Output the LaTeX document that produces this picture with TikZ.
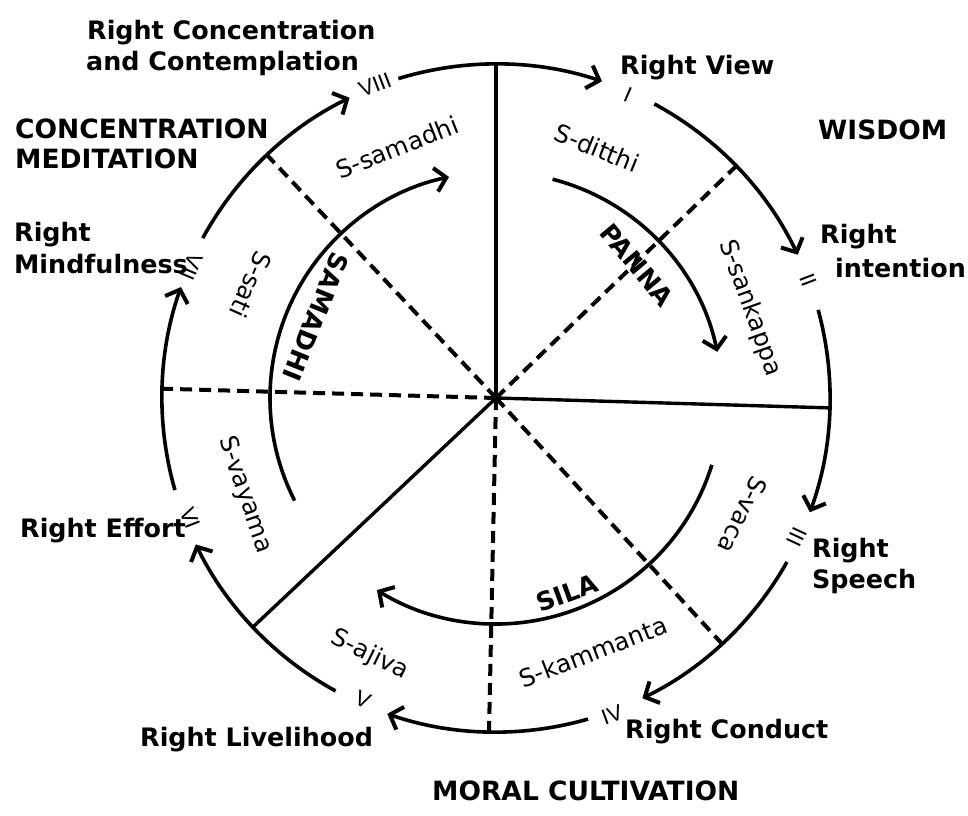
\documentclass[tikz,border=0pt]{standalone}
\usepackage{fontspec}
\setmainfont{DejaVu Sans}
\newfontfamily\numfont{Liberation Sans}
\usetikzlibrary{arrows.meta}
\tikzset{
  ring/.style={line width=3.6pt},
  flow/.style={line width=3.6pt,-{Straight Barb[length=11pt,width=24pt,line width=4pt]}},
  spoke/.style={line width=3.4pt},
  dspoke/.style={line width=4pt,dash pattern=on 12pt off 7pt},
  big/.style={font=\bfseries\fontsize{25.4}{31}\selectfont,inner sep=0pt,anchor=base west},
  capt/.style={font=\bfseries\fontsize{26.5}{32}\selectfont,inner sep=0pt,anchor=base west},
  sub/.style={font=\fontsize{24.5}{28}\selectfont,inner sep=0pt},
  num/.style={font=\numfont\fontsize{22}{24}\selectfont,inner sep=0pt},
  path3/.style={font=\bfseries\fontsize{25.5}{30}\selectfont,inner sep=0pt}
}
\begin{document}
\begin{tikzpicture}[x=1pt,y=1pt]
\useasboundingbox (-496,-417) rectangle (472,398);
\coordinate (O) at (0,0);
% spokes
\coordinate (p90) at (90:334);
\coordinate (p358) at (-1.7:334);
\coordinate (p223) at (223.3:334);
\coordinate (p44) at (44:334);
\coordinate (p133) at (133.3:334);
\coordinate (p178) at (178.4:334);
\coordinate (p269) at (-91.2:334);
\coordinate (p313) at (-47.4:334);
\draw[spoke] (O) -- (p90);
\draw[spoke] (O) -- (p358);
\draw[spoke] (O) -- (p223);
\draw[dspoke] (O) -- (p44);
\draw[dspoke] (O) -- (p133);
\draw[dspoke] (O) -- (p178);
\draw[dspoke] (O) -- (p269);
\draw[dspoke] (O) -- (p313);
% numerals
\node[num,rotate=-23.5] (n1) at (132,303) {I};
\node[num,rotate=-69] (n2) at (312,118) {II};
\node[num,rotate=65] (n3) at (301,-139) {III};
\node[num,rotate=20] (n4) at (116,-317) {IV};
\node[num,rotate=-24] (n5) at (-133,-302) {V};
\node[num,rotate=-69] (n6) at (-306,-120) {VI};
\node[num,rotate=-113] (n7) at (-305,131) {VII};
\node[num,rotate=21] (n8) at (-121,313) {VIII};
% outer ring arcs
\coordinate (a8) at (107:334);
\coordinate (a1) at (61.7:334);
\coordinate (a2) at (15.3:334);
\coordinate (a3) at (-29.4:334);
\coordinate (a4) at (-74:334);
\coordinate (a5) at (-118.7:334);
\coordinate (a6) at (196:334);
\coordinate (a7) at (151.4:334);
\draw[flow] (a8) arc[start angle=107,end angle=71.5,radius=334];
\draw[flow] (a1) arc[start angle=61.7,end angle=25.4,radius=334];
\draw[flow] (a2) arc[start angle=15.3,end angle=-20,radius=334];
\draw[flow] (a3) arc[start angle=-29.4,end angle=-64,radius=334];
\draw[flow] (a4) arc[start angle=-74,end angle=-109,radius=334];
\draw[flow] (a5) arc[start angle=-118.7,end angle=-154,radius=334];
\draw[flow] (a6) arc[start angle=196,end angle=160.6,radius=334];
\draw[flow] (a7) arc[start angle=151.4,end angle=116,radius=334];
% inner arcs
\coordinate (ip) at (75.5:226);
\coordinate (is) at (207:226);
\coordinate (il) at (-17.2:226);
\draw[flow] (ip) arc[start angle=75.5,end angle=11.8,radius=226];
\draw[flow] (is) arc[start angle=207,end angle=102,radius=226];
\draw[flow] (il) arc[start angle=-17.2,end angle=-121.8,radius=226];
% inner labels
\node[path3,rotate=-50] (panna) at (141,133) {PANNA};
\node[path3,rotate=-112] (samadhi) at (-180,81) {SAMADHI};
\node[path3,rotate=20] (sila) at (71,-195) {SILA};
% sub labels
\node[sub,rotate=-22] (sd) at (101,250) {S-ditthi};
\node[sub,rotate=-70.5] (ss) at (254,90) {S-sankappa};
\node[sub,rotate=-116] (sv) at (247,-117) {S-vaca};
\node[sub,rotate=21] (sk) at (97,-254) {S-kammanta};
\node[sub,rotate=-26] (sa) at (-126,-257) {S-ajiva};
\node[sub,rotate=-71] (sy) at (-251,-97) {S-vayama};
\node[sub,rotate=-114] (st) at (-245,113) {S-sati};
\node[sub,rotate=21.5] (sm) at (-99,251) {S-samadhi};
% outer labels
\node[big] (rc1) at (-409,359) {Right Concentration};
\node[big] (rc2) at (-410,328) {and Contemplation};
\node[capt] (cm1) at (-481,260) {CONCENTRATION};
\node[capt] (cm2) at (-481,230) {MEDITATION};
\node[big] (rv) at (124,324) {Right View};
\node[capt] (wis) at (322,259) {WISDOM};
\node[big] (ri1) at (324,155) {Right};
\node[big] (ri2) at (339,121) {intention};
\node[big] (rs1) at (316,-159) {Right};
\node[big] (rs2) at (316,-190) {Speech};
\node[big] (rcd) at (129,-340) {Right Conduct};
\node[big] (rl) at (-356,-348) {Right Livelihood};
\node[capt] (mc) at (-64,-402) {MORAL CULTIVATION};
\node[big] (re) at (-476,-139) {Right Effort};
\node[big] (rm1) at (-482,157) {Right};
\node[big] (rm2) at (-482,125) {Mindfulness};
\end{tikzpicture}
\end{document}
